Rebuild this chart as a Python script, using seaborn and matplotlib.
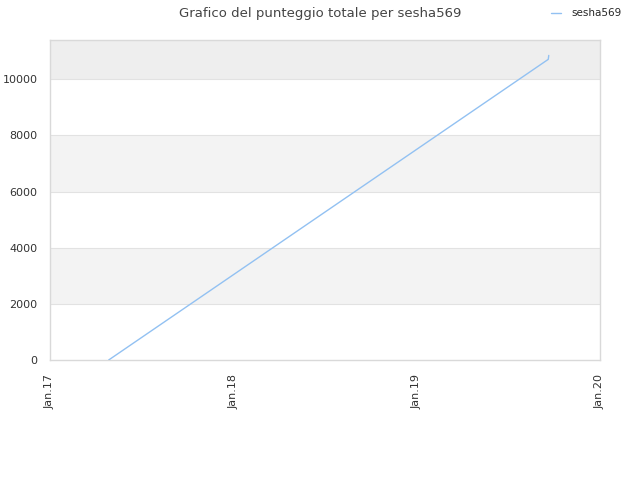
import seaborn as sns
import pandas as pd
import numpy as np
from matplotlib import pyplot as plt

# data
dates = ['2017-04-28', '2019-09-20', '2019-09-21']
scores = [0, 10710, 10850]
player = 'sesha569'

xtick_dates = ['2017-01-01', '2018-01-01', '2019-01-01', '2020-01-01']
xtick_labels = ['Jan.17', 'Jan.18', 'Jan.19', 'Jan.20']
ytick_values = [0, 2000, 4000, 6000, 8000, 10000]

df = pd.DataFrame({'date': pd.to_datetime(dates), 'score': scores, 'player': player})

sns.set_style('white')
plt.rcParams['font.family'] = ['DejaVu Sans']

fig = plt.figure(figsize=(6.4, 4.8), dpi=100)
ax = fig.add_axes([0.078, 0.25, 0.8595, 0.6667])

# alternating bands
bands = [(2000, 4000, '#f3f3f3'), (6000, 8000, '#f3f3f3'), (10000, 11400, '#eeeeee')]
for lo, hi, c in bands:
    ax.axhspan(lo, hi, color=c, zorder=0, lw=0)
for y in ytick_values[1:]:
    ax.axhline(y, color='#e2e2e2', lw=0.8, zorder=1)

sns.lineplot(data=df, x='date', y='score', hue='player', palette=['#92c1f2'],
             lw=1, ax=ax, zorder=3)

ax.set_xlim(pd.Timestamp('2017-01-01'), pd.Timestamp('2020-01-01'))
ax.set_ylim(0, 11400)
ax.set_xticks(pd.to_datetime(xtick_dates))
ax.set_xticklabels(xtick_labels, rotation=90)
ax.set_yticks(ytick_values)
ax.set_yticklabels([str(v) for v in ytick_values])
ax.tick_params(labelsize=8, colors='#333333', length=0)
ax.tick_params(axis='x', pad=10)
ax.tick_params(axis='y', pad=9)
ax.set_xlabel('')
ax.set_ylabel('')
for s in ax.spines.values():
    s.set_color('#d9d9d9')
    s.set_linewidth(1)

leg = ax.legend(loc='upper right', bbox_to_anchor=(1.057, 1.128), frameon=False,
                fontsize=7.5, handlelength=1.0, handletextpad=1.0, title=None)

fig.suptitle('Grafico del punteggio totale per sesha569', x=0.5, y=0.985,
             fontsize=9.5, color='#444444')

fig.savefig('out.png', dpi=100)
